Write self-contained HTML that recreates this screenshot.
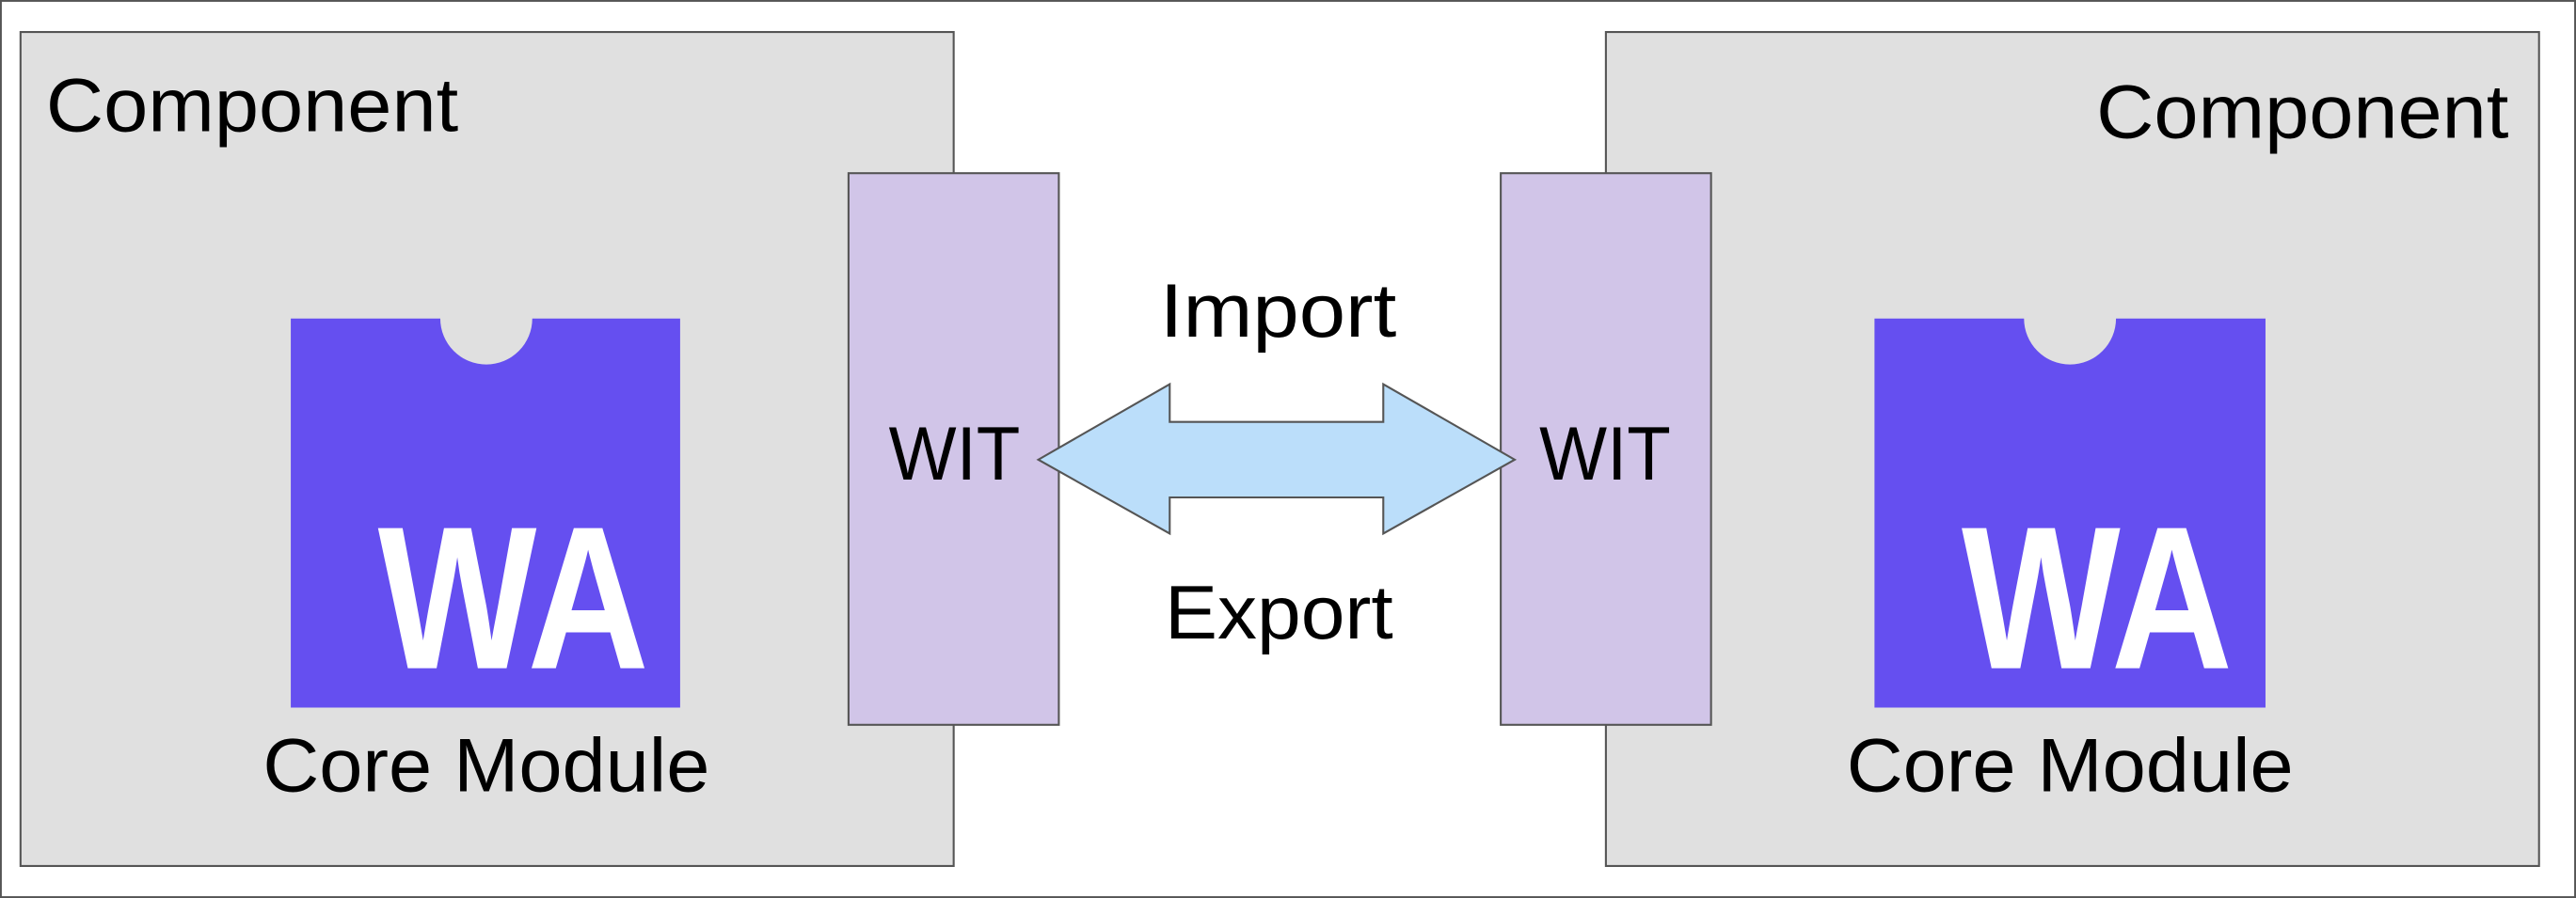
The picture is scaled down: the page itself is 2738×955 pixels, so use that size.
<!DOCTYPE html>
<html><head><meta charset="utf-8"><style>
html,body{margin:0;padding:0;background:#fff;}
svg{display:block;width:2738px;height:955px;}
text{font-family:"Liberation Sans",sans-serif;fill:#000;}
</style></head><body>
<svg viewBox="0 0 1568 547" preserveAspectRatio="none" xmlns="http://www.w3.org/2000/svg">
<rect x="0.5" y="0.5" width="1567" height="546" fill="#fff" stroke="#555" stroke-width="1.2"/>
<rect x="12.5" y="19.5" width="568" height="508" fill="#e0e0e0" stroke="#555" stroke-width="1.2"/>
<text x="28" y="80" font-size="46" textLength="251" lengthAdjust="spacingAndGlyphs">Component</text>
<path d="M177 194 H268 A28 28 0 0 0 324 194 H414 V431 H177 Z" fill="#654ff0"/>
<text x="230" y="407" font-size="124" font-weight="bold" style="fill:#fff" textLength="165" lengthAdjust="spacingAndGlyphs">WA</text>
<text x="160" y="482" font-size="46" textLength="272" lengthAdjust="spacingAndGlyphs">Core Module</text>
<rect x="516.5" y="105.5" width="128" height="336" fill="#d1c5e8" stroke="#555" stroke-width="1.2"/>
<text x="541" y="292" font-size="46" textLength="80" lengthAdjust="spacingAndGlyphs">WIT</text>
<rect x="977.5" y="19.5" width="568" height="508" fill="#e0e0e0" stroke="#555" stroke-width="1.2"/>
<text x="1276" y="84" font-size="46" textLength="251" lengthAdjust="spacingAndGlyphs">Component</text>
<path d="M1141 194 H1232 A28 28 0 0 0 1288 194 H1379 V431 H1141 Z" fill="#654ff0"/>
<text x="1194" y="407" font-size="124" font-weight="bold" style="fill:#fff" textLength="165" lengthAdjust="spacingAndGlyphs">WA</text>
<text x="1124" y="482" font-size="46" textLength="272" lengthAdjust="spacingAndGlyphs">Core Module</text>
<rect x="913.5" y="105.5" width="128" height="336" fill="#d1c5e8" stroke="#555" stroke-width="1.2"/>
<text x="937" y="292" font-size="46" textLength="80" lengthAdjust="spacingAndGlyphs">WIT</text>
<path d="M632 280 L712 234 V257 H842 V234 L922 280 L842 325 V303 H712 V325 Z" fill="#bbdefa" stroke="#555" stroke-width="1.2"/>
<text x="706" y="205" font-size="46" textLength="144" lengthAdjust="spacingAndGlyphs">Import</text>
<text x="709" y="389" font-size="46" textLength="139" lengthAdjust="spacingAndGlyphs">Export</text>
</svg>
</body></html>
